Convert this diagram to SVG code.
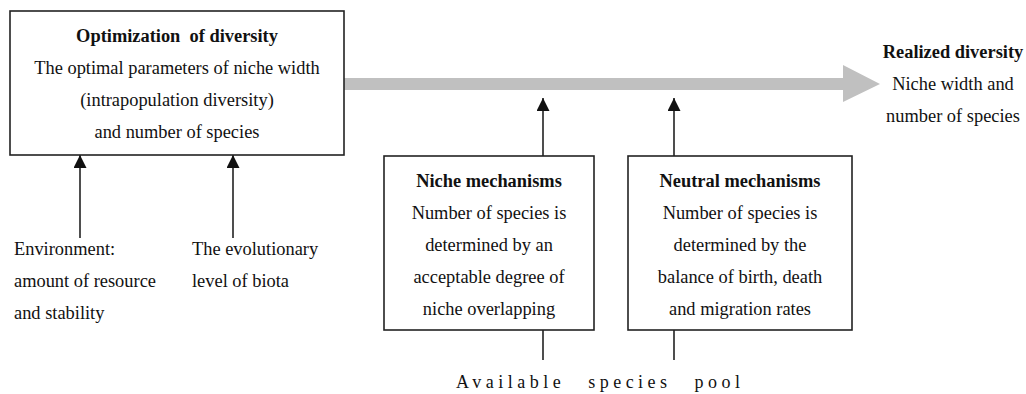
<svg xmlns="http://www.w3.org/2000/svg" width="1026" height="394" viewBox="0 0 1026 394">
<defs>
<style>
text{font-family:"Liberation Serif","Times New Roman",serif;font-size:18.4px;fill:#111}
.b{font-weight:bold}
.c{text-anchor:middle}
.box{fill:#fff;stroke:#222;stroke-width:1.6}
.ln{stroke:#222;stroke-width:1.6;fill:none}
</style>
<marker id="ah" viewBox="0 0 10 10" refX="10" refY="5" markerWidth="13" markerHeight="13" markerUnits="userSpaceOnUse" orient="auto">
<path d="M0,0 L10,5 L0,10 z" fill="#111"/>
</marker>
</defs>
<rect width="1026" height="394" fill="#fff"/>
<g id="connectors">
<polygon id="main-arrow" points="344,78 843,78 843,65 880,84 843,102 843,90 344,90" fill="#c0c0c0"/>
<line class="ln" x1="80" y1="238" x2="80" y2="155" marker-end="url(#ah)"/>
<line class="ln" x1="233" y1="238" x2="233" y2="155" marker-end="url(#ah)"/>
<line class="ln" x1="543" y1="156" x2="543" y2="98" marker-end="url(#ah)"/>
<line class="ln" x1="674" y1="156" x2="674" y2="98" marker-end="url(#ah)"/>
<line class="ln" x1="543" y1="330" x2="543" y2="360"/>
<line class="ln" x1="674" y1="330" x2="674" y2="360"/>
</g>
<g id="optimization">
<rect class="box" x="10" y="11" width="334" height="144"/>
<text class="b c" x="177" y="42" xml:space="preserve">Optimization  of diversity</text>
<text class="c" x="177" y="74">The optimal parameters of niche width</text>
<text class="c" x="177" y="106">(intrapopulation diversity)</text>
<text class="c" x="177" y="138">and number of species</text>
</g>
<g id="environment">
<text x="14" y="255">Environment:</text>
<text x="14" y="287">amount of resource</text>
<text x="14" y="319">and stability</text>
</g>
<g id="evolutionary">
<text x="192" y="255">The evolutionary</text>
<text x="192" y="287">level of biota</text>
</g>
<g id="niche">
<rect class="box" x="384" y="156" width="210" height="174"/>
<text class="b c" x="489" y="187">Niche mechanisms</text>
<text class="c" x="489" y="219">Number of species is</text>
<text class="c" x="489" y="251">determined by an</text>
<text class="c" x="489" y="283">acceptable degree of</text>
<text class="c" x="489" y="315">niche overlapping</text>
</g>
<g id="neutral">
<rect class="box" x="628" y="156" width="224" height="174"/>
<text class="b c" x="740" y="187">Neutral mechanisms</text>
<text class="c" x="740" y="219">Number of species is</text>
<text class="c" x="740" y="251">determined by the</text>
<text class="c" x="740" y="283">balance of birth, death</text>
<text class="c" x="740" y="315">and migration rates</text>
</g>
<g id="realized">
<text class="b c" x="953" y="58">Realized diversity</text>
<text class="c" x="953" y="90">Niche width and</text>
<text class="c" x="953" y="122">number of species</text>
</g>
<g id="pool">
<text x="456" y="388" style="font-size:18px;letter-spacing:4.5px;word-spacing:14px">Available species pool</text>
</g>
</svg>
